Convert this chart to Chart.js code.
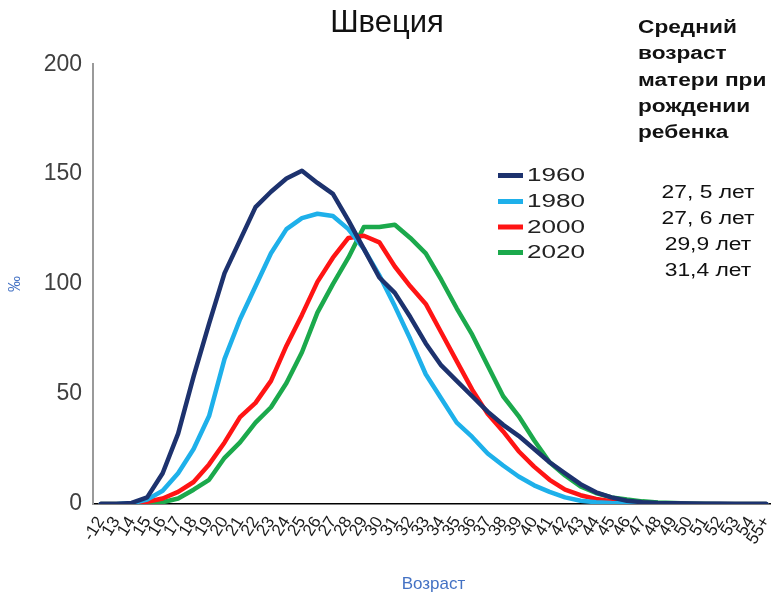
<!DOCTYPE html>
<html><head><meta charset="utf-8">
<script src="https://cdn.jsdelivr.net/npm/chart.js@4"></script>
<style>
html,body{margin:0;padding:0;background:#fff;overflow:hidden;width:771px;height:595px;}
#wrap{position:absolute;left:0;top:0;width:774px;height:595px;}
.note{position:absolute;font-family:"Liberation Sans",Arial,sans-serif;color:#111;white-space:nowrap;}
#noteHead{left:638px;top:14px;font-weight:bold;font-size:18px;line-height:26.3px;transform:scaleX(1.26);transform-origin:0 0;}
#noteVals{left:643px;top:179px;width:130px;text-align:center;font-size:18px;line-height:26px;transform:scaleX(1.27);transform-origin:50% 0;}
</style></head>
<body>
<div id="wrap"><canvas id="c"></canvas></div>
<div class="note" id="noteHead">Средний<br>возраст<br>матери при<br>рождении<br>ребенка</div>
<div class="note" id="noteVals">27, 5 лет<br>27, 6 лет<br>29,9 лет<br>31,4 лет</div>
<script>
const ages = ['-12','13','14','15','16','17','18','19','20','21','22','23','24','25','26','27','28','29','30','31','32','33','34','35','36','37','38','39','40','41','42','43','44','45','46','47','48','49','50','51','52','53','54','55+'];
const years = ['1960','1980','2000','2020'];
const s1960 = [0,0,0.5,3,14,32,58,82,105,120,135,142,148,151.5,146,141,129,116,103,96,85,73,63,56,49,42,36,31,25,19,14,9,5.3,3,1.5,0.8,0.4,0.3,0.2,0.1,0.1,0,0,0];
const s1980 = [0,0,0.3,2,6,14,25,40,66,84,99,114,125,130,132,131,125,116,104,90,75,59,48,37,30.5,23,17.5,12.5,8.5,5.5,3,1.5,0.8,0.4,0.2,0.1,0,0,0,0,0,0,0,0];
const s2000 = [0,0,0,1,2.5,5.5,10,18,28,39.5,46,56,72,86,101,112,121,122,119,108,99,91,78,65,52,41,33,24,17,11,6.5,4,2.3,1.3,0.7,0.4,0.2,0.1,0,0,0,0,0,0];
const s2020 = [0,0,0,0.3,0.8,2.5,6.5,11,21,28,37,44,55,69,87,100,112,126,126,127,121,114,102,89,77,63,49,40,29,19,13,8,5,3,2,1.2,0.7,0.4,0.2,0.1,0,0,0,0];
const yTicks = [0,50,100,150,200];
const colors = ['#1D326E','#1EB0EA','#FF1414','#1BA94C'];
const series = [s1960,s1980,s2000,s2020];

const FONT = '"Liberation Sans", Arial, sans-serif';

const legendPlugin = {
  id:'innerLegend',
  afterDraw(chart){
    const ctx = chart.ctx;
    const rows = [175.5,201.5,227,252.5];
    ctx.save();
    chart.data.datasets.forEach((ds,i)=>{
      const y = rows[i];
      ctx.strokeStyle = ds.borderColor;
      ctx.lineWidth = 5;
      ctx.lineCap = 'butt';
      ctx.beginPath(); ctx.moveTo(498,y); ctx.lineTo(523,y); ctx.stroke();
      ctx.save();
      ctx.translate(527,y);
      ctx.scale(1.45,1);
      ctx.fillStyle = '#222';
      ctx.font = '18px ' + FONT;
      ctx.textBaseline = 'middle';
      ctx.textAlign = 'left';
      ctx.fillText(ds.label,0,1);
      ctx.restore();
    });
    ctx.restore();
  }
};

new Chart(document.getElementById('c'),{
  type:'line',
  data:{
    labels: ages,
    datasets: years.map((y,i)=>({
      label:y, data:series[i], borderColor:colors[i], backgroundColor:colors[i],
      borderWidth:4.5, pointRadius:0, tension:0, fill:false,
      borderCapStyle:'round', borderJoinStyle:'round'
    }))
  },
  options:{
    responsive:true, maintainAspectRatio:false, animation:false,
    layout:{padding:{left:0,right:0,top:0,bottom:0}},
    plugins:{
      legend:{display:false},
      tooltip:{enabled:false},
      title:{display:true,text:'Швеция',color:'#111',
        font:{family:FONT,size:31,weight:'normal'},padding:{top:5,bottom:22}}
    },
    scales:{
      x:{
        offset:true,
        grid:{display:false,drawTicks:false},
        border:{display:true,color:'#000',width:1.5},
        ticks:{autoSkip:false,minRotation:58,maxRotation:58,padding:9,color:'#1a1a1a',font:{family:FONT,size:17}},
        title:{display:true,text:'Возраст',color:'#4472C4',font:{family:FONT,size:17},padding:{top:0,bottom:0}},
        afterFit(s){ s.height = 91; s.paddingLeft = 0; s.paddingRight = 0; }
      },
      y:{
        min:0,max:200,
        afterBuildTicks(s){ s.ticks = yTicks.map(v=>({value:v})); },
        grid:{display:false,drawTicks:false},
        border:{display:true,color:'#9a9a9a',width:2},
        ticks:{padding:11,color:'#404040',font:{family:FONT,size:23}},
        title:{display:true,text:'‰',color:'#4472C4',font:{family:FONT,size:16},padding:{top:6,bottom:0}},
        afterFit(s){ s.width = 93; }
      }
    }
  },
  plugins:[legendPlugin]
});
</script>
</body></html>
